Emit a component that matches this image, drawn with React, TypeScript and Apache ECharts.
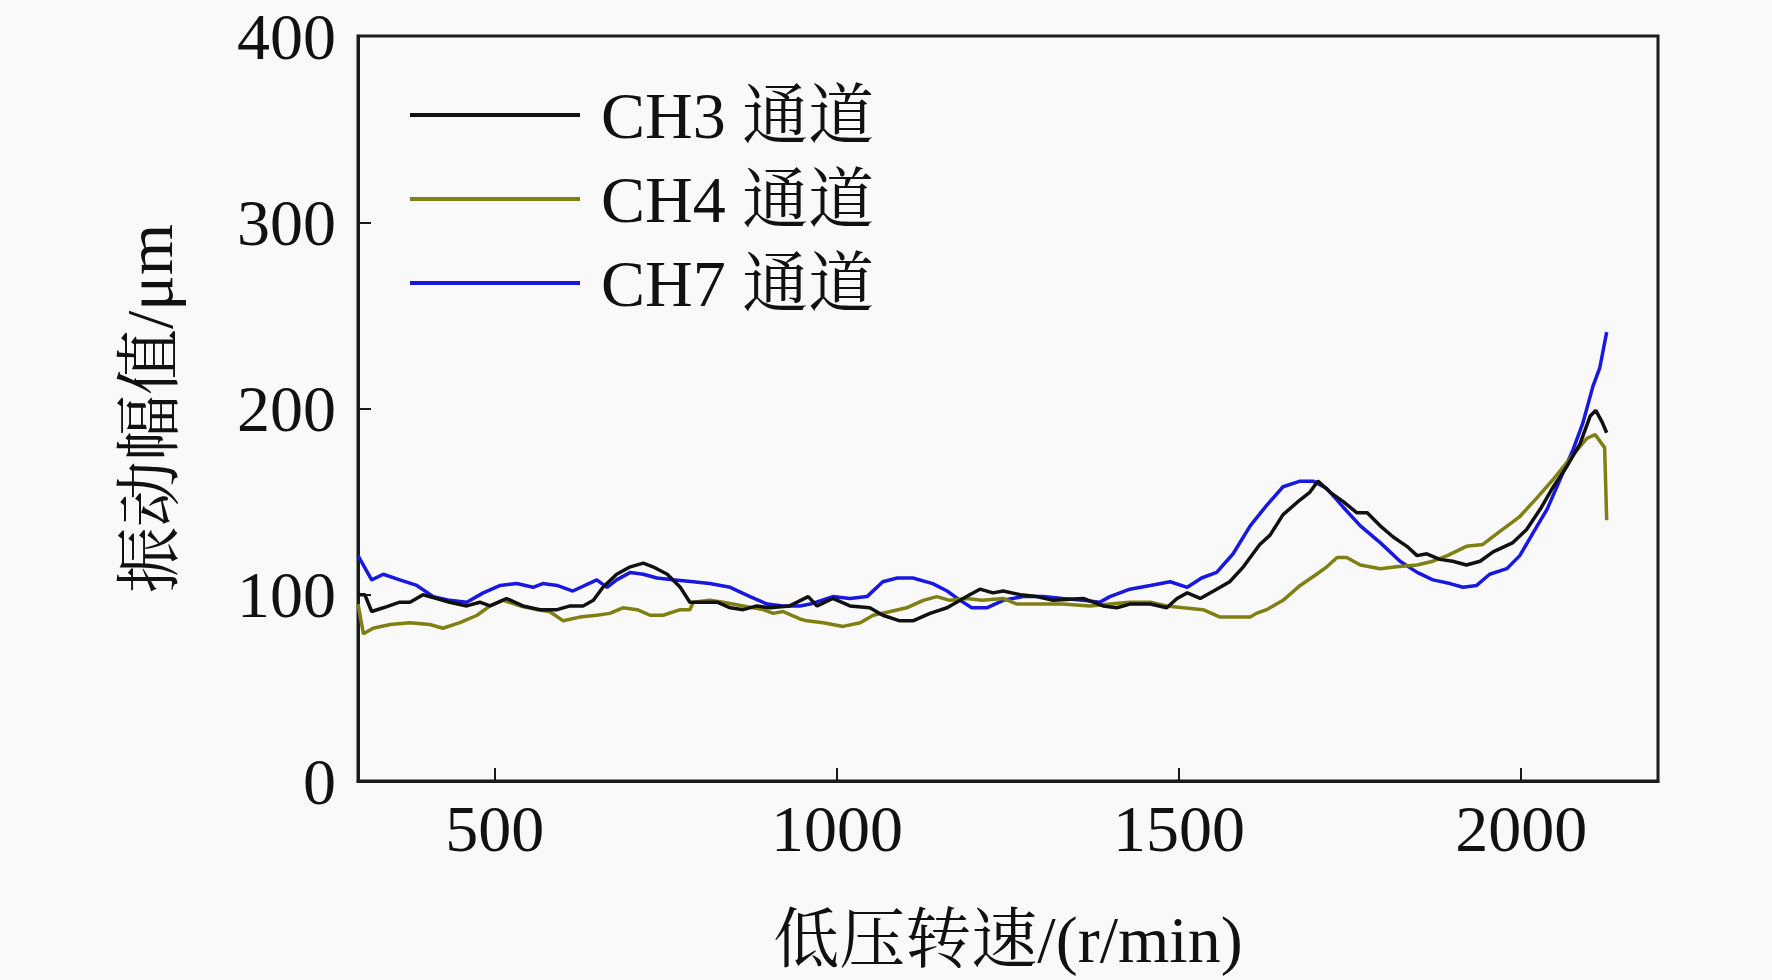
import React, { useEffect, useRef } from "react";
import * as echarts from "echarts";

const xTicks = [500, 1000, 1500, 2000];
const yTicks = [0, 100, 200, 300, 400];

const ch3Rpm = [300, 310, 320, 337, 361, 376, 395, 415, 434, 459, 478, 493, 517, 541, 566, 591, 610, 629, 644, 658, 678, 698, 717, 731, 752, 771, 785, 800, 825, 844, 863, 883, 902, 931, 958, 971, 994, 1019, 1048, 1067, 1092, 1111, 1136, 1161, 1180, 1194, 1209, 1228, 1243, 1268, 1292, 1316, 1360, 1389, 1409, 1428, 1458, 1482, 1497, 1512, 1531, 1555, 1574, 1594, 1618, 1633, 1652, 1677, 1691, 1703, 1721, 1740, 1760, 1775, 1794, 1813, 1833, 1848, 1862, 1881, 1900, 1920, 1940, 1959, 1988, 2008, 2028, 2047, 2067, 2086, 2101, 2109, 2118, 2125];
const ch3Amp = [100, 100, 91, 93, 96, 96, 100, 98, 96, 94, 96, 94, 98, 94, 92, 92, 94, 94, 97, 104, 111, 115, 117, 115, 111, 104, 96, 96, 96, 93, 92, 94, 93, 94, 99, 94, 98, 94, 93, 89, 86, 86, 90, 93, 97, 100, 103, 101, 102, 100, 99, 97, 98, 94, 93, 95, 95, 93, 98, 101, 98, 103, 107, 115, 127, 132, 143, 151, 155, 161, 155, 150, 144, 144, 137, 131, 126, 121, 122, 119, 118, 116, 118, 123, 128, 135, 146, 158, 169, 181, 196, 199, 193, 187];

const ch4Rpm = [300, 308, 322, 347, 376, 405, 424, 449, 474, 493, 512, 537, 561, 580, 600, 624, 649, 668, 687, 708, 727, 746, 771, 785, 790, 814, 834, 863, 892, 907, 921, 946, 956, 980, 1009, 1034, 1053, 1078, 1102, 1126, 1146, 1165, 1190, 1212, 1243, 1263, 1297, 1330, 1370, 1399, 1428, 1458, 1482, 1506, 1535, 1560, 1579, 1604, 1613, 1628, 1652, 1677, 1701, 1716, 1731, 1745, 1765, 1794, 1818, 1848, 1871, 1892, 1920, 1944, 1969, 1998, 2023, 2047, 2071, 2096, 2108, 2122, 2125];
const ch4Amp = [95, 79, 82, 84, 85, 84, 82, 85, 89, 94, 97, 94, 92, 91, 86, 88, 89, 90, 93, 92, 89, 89, 92, 92, 96, 97, 96, 94, 92, 90, 91, 87, 86, 85, 83, 85, 89, 91, 93, 97, 99, 97, 98, 97, 98, 95, 95, 95, 94, 95, 96, 96, 94, 93, 92, 88, 88, 88, 90, 92, 97, 105, 111, 115, 120, 120, 116, 114, 115, 116, 118, 121, 126, 127, 134, 142, 152, 162, 173, 184, 186, 179, 140];

const ch7Rpm = [300, 320, 337, 361, 386, 410, 434, 459, 483, 508, 532, 556, 570, 591, 614, 649, 664, 678, 698, 717, 737, 760, 790, 814, 844, 873, 898, 921, 946, 961, 994, 1019, 1044, 1067, 1088, 1111, 1140, 1161, 1180, 1197, 1219, 1243, 1272, 1301, 1330, 1360, 1384, 1399, 1428, 1458, 1487, 1512, 1533, 1555, 1579, 1604, 1628, 1652, 1677, 1696, 1716, 1740, 1765, 1794, 1823, 1848, 1871, 1896, 1915, 1935, 1954, 1979, 1998, 2017, 2038, 2057, 2076, 2090, 2105, 2115, 2125];
const ch7Amp = [121, 108, 111, 108, 105, 99, 97, 96, 101, 105, 106, 104, 106, 105, 102, 108, 104, 108, 112, 111, 109, 108, 107, 106, 104, 99, 95, 94, 94, 95, 99, 98, 99, 107, 109, 109, 106, 102, 97, 93, 93, 97, 99, 99, 98, 97, 96, 99, 103, 105, 107, 104, 109, 112, 122, 137, 148, 158, 161, 161, 157, 147, 137, 128, 118, 112, 108, 106, 104, 105, 111, 114, 121, 133, 146, 162, 178, 192, 212, 222, 241];

const seriesNames = ["CH3 通道", "CH4 通道", "CH7 通道"];
const seriesColors = ["#111111", "#7f7f14", "#1818e0"];

const zip = (xs: number[], ys: number[]) => xs.map((x, i) => [x, ys[i]]);

const FONT = "'Liberation Serif', 'Times New Roman', 'Noto Serif CJK SC', 'Noto Sans CJK SC', serif";
const FS = 66;

export default function App() {
  const ref = useRef<HTMLDivElement>(null);
  useEffect(() => {
    document.body.style.margin = "0";
    if (!ref.current) return;
    const chart = echarts.init(ref.current, null, { renderer: "svg" });
    const datas = [zip(ch3Rpm, ch3Amp), zip(ch4Rpm, ch4Amp), zip(ch7Rpm, ch7Amp)];
    chart.setOption({
      animation: false,
      backgroundColor: "#f9f9f9",
      textStyle: { fontFamily: FONT },
      grid: {
        left: 358,
        right: 114,
        top: 36,
        bottom: 199,
        show: true,
        borderColor: "#1a1a1a",
        borderWidth: 3,
        backgroundColor: "transparent",
        outerBoundsMode: "none",
        containLabel: false,
      },
      legend: {
        orient: "vertical",
        left: 405,
        top: 68,
        itemWidth: 170,
        itemHeight: 4,
        itemGap: 0,
        icon: "rect",
        data: seriesNames.map((n, i) => ({
          name: n,
          itemStyle: { color: seriesColors[i] },
        })),
        textStyle: {
          fontSize: FS,
          lineHeight: 84,
          color: "#111",
          fontFamily: FONT,
          padding: [0, 0, 0, 16],
        },
      },
      xAxis: {
        type: "value",
        min: 300,
        max: 2200,
        name: "低压转速/(r/min)",
        nameLocation: "middle",
        nameGap: 125,
        nameTextStyle: { fontSize: FS, color: "#111", fontFamily: FONT },
        axisLine: { show: true, lineStyle: { color: "#1a1a1a", width: 3 } },
        axisTick: {
          show: true,
          inside: true,
          length: 13,
          customValues: xTicks,
          lineStyle: { color: "#1a1a1a", width: 2 },
        },
        axisLabel: {
          customValues: xTicks,
          fontSize: FS,
          color: "#111",
          margin: 14,
          fontFamily: FONT,
          formatter: (v: number) => String(v),
        },
        splitLine: { show: false },
      },
      yAxis: {
        type: "value",
        min: 0,
        max: 400,
        interval: 100,
        name: "振动幅值/μm",
        nameLocation: "middle",
        nameGap: 176,
        nameTextStyle: { fontSize: FS, color: "#111", fontFamily: FONT },
        axisLine: { show: true, lineStyle: { color: "#1a1a1a", width: 3 } },
        axisTick: {
          show: true,
          inside: true,
          length: 13,
          lineStyle: { color: "#1a1a1a", width: 2 },
        },
        axisLabel: {
          fontSize: FS,
          color: "#111",
          margin: 22,
          fontFamily: FONT,
          customValues: yTicks,
          formatter: (v: number) => String(v),
        },
        splitLine: { show: false },
      },
      series: seriesNames.map((n, i) => ({
        name: n,
        type: "line",
        data: datas[i],
        symbol: "none",
        lineStyle: { color: seriesColors[i], width: 3.5 },
        itemStyle: { color: seriesColors[i] },
        z: 5 - i,
      })),
    });
    return () => chart.dispose();
  }, []);
  return <div ref={ref} style={{ width: 1772, height: 980 }} />;
}
